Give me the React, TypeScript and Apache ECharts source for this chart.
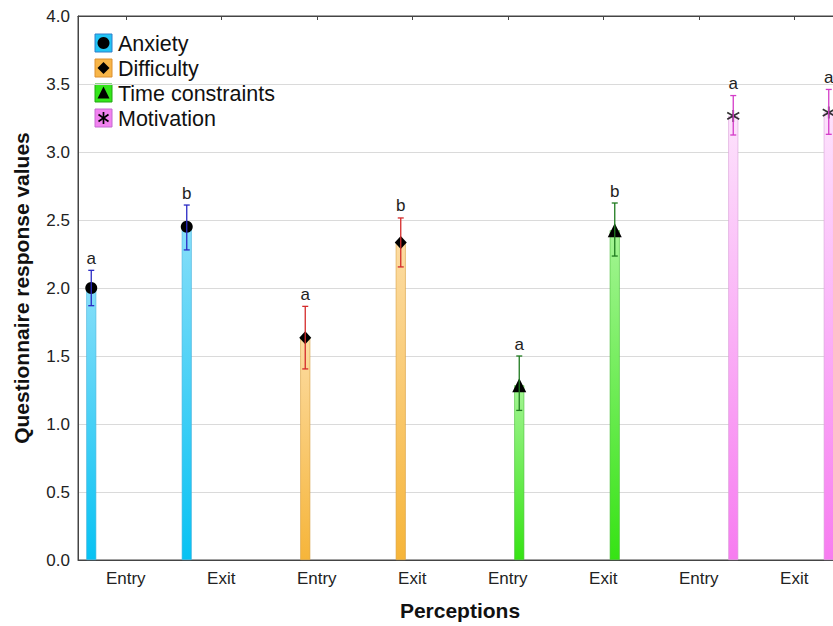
import React, { useEffect, useRef } from "react";
import * as echarts from "echarts";

const categories = ["Entry", "Exit", "Entry", "Exit", "Entry", "Exit", "Entry", "Exit"];
const groupNames = ["Anxiety", "Difficulty", "Time constraints", "Motivation"];

// [Entry, Exit] per perception
const anxietyMean = [2.0, 2.45];
const anxietyLow = [1.87, 2.28];
const anxietyHigh = [2.13, 2.61];
const anxietyLetters = ["a", "b"];

const difficultyMean = [1.635, 2.335];
const difficultyLow = [1.405, 2.155];
const difficultyHigh = [1.865, 2.515];
const difficultyLetters = ["a", "b"];

const timeMean = [1.285, 2.425];
const timeLow = [1.1, 2.235];
const timeHigh = [1.5, 2.625];
const timeLetters = ["a", "b"];

const motivationMean = [3.265, 3.29];
const motivationLow = [3.125, 3.13];
const motivationHigh = [3.415, 3.46];
const motivationLetters = ["a", "a"];

const yTicks = [0, 0.5, 1.0, 1.5, 2.0, 2.5, 3.0, 3.5, 4.0];

const FONT = "'Liberation Sans', Arial, Helvetica, sans-serif";
const BAR_W = 10;
const BAR_GAP = 13;
const CHART_W = 860;

const groups = [
  { mean: anxietyMean, low: anxietyLow, high: anxietyHigh, letters: anxietyLetters,
    top: "#86def9", bottom: "#08c2f3", border: "#4db4dc", err: "#2a2ac4", symbol: "circle", size: 12,
    swatch: "#22c4f4", swatchBorder: "#2f7fcc" },
  { mean: difficultyMean, low: difficultyLow, high: difficultyHigh, letters: difficultyLetters,
    top: "#fcdca2", bottom: "#f6b53a", border: "#d9a040", err: "#d42b2b", symbol: "diamond", size: [12, 13],
    swatch: "#f7b548", swatchBorder: "#dc9030" },
  { mean: timeMean, low: timeLow, high: timeHigh, letters: timeLetters,
    top: "#a4f594", bottom: "#36e314", border: "#4cc03a", err: "#1f7a1f", symbol: "triangle", size: 14,
    swatch: "#34e61a", swatchBorder: "#22a812" },
  { mean: motivationMean, low: motivationLow, high: motivationHigh, letters: motivationLetters,
    top: "#fde2fc", bottom: "#f77cf0", border: "#d9a0d8", err: "#d43cc8",
    symbol: "path://M6 0 L6 12 M0.8 2.6 L11.2 9.4 M0.8 9.4 L11.2 2.6", size: 12,
    swatch: "#f282f0", swatchBorder: "#c46ad0" },
];

function offsetOf(g: number) {
  const step = BAR_W + BAR_GAP;
  return (g - 1.5) * step;
}

export default function App() {
  const ref = useRef<HTMLDivElement>(null);

  useEffect(() => {
    document.body.style.margin = "0";
    document.body.style.overflow = "hidden";
    document.documentElement.style.overflow = "hidden";
    if (!ref.current) return;
    const chart = echarts.init(ref.current, null, { renderer: "svg" });

    const series: any[] = [];

    groups.forEach((g, gi) => {
      const barData = categories.map((_, ci) =>
        Math.floor(ci / 2) === gi ? g.mean[ci % 2] : "-"
      );
      series.push({
        name: groupNames[gi],
        type: "bar",
        xAxisIndex: 0,
        barWidth: BAR_W,
        barGap: (BAR_GAP / BAR_W) * 100 + "%",
        data: barData,
        z: 2,
        itemStyle: {
          color: new echarts.graphic.LinearGradient(0, 0, 0, 1, [
            { offset: 0, color: g.top },
            { offset: 1, color: g.bottom },
          ]),
          borderColor: g.border,
          borderWidth: 0.6,
        },
      });
    });

    groups.forEach((g, gi) => {
      const off = offsetOf(gi);
      series.push({
        name: groupNames[gi] + " mean",
        type: "scatter",
        xAxisIndex: 0,
        data: g.mean.map((v, k) => [gi * 2 + k, v]),
        symbol: g.symbol,
        symbolSize: g.size,
        symbolOffset: [off, 0],
        z: 4,
        itemStyle:
          gi === 3
            ? { color: "rgba(0,0,0,0)", borderColor: "#000", borderWidth: 1.7 }
            : { color: "#000", opacity: 1 },
      });
      series.push({
        name: groupNames[gi] + " error",
        type: "custom",
        xAxisIndex: 0,
        z: 5,
        data: g.mean.map((_, k) => [gi * 2 + k, g.low[k], g.high[k]]),
        renderItem: (params: any, api: any) => {
          const x = api.value(0);
          const pHi = api.coord([x, api.value(2)]);
          const pLo = api.coord([x, api.value(1)]);
          const cx = pHi[0] + off;
          const st = { stroke: g.err, lineWidth: 1.3 };
          return {
            type: "group",
            children: [
              { type: "line", shape: { x1: cx, y1: pHi[1], x2: cx, y2: pLo[1] }, style: st },
              { type: "line", shape: { x1: cx - 3, y1: pHi[1], x2: cx + 3, y2: pHi[1] }, style: st },
              { type: "line", shape: { x1: cx - 3, y1: pLo[1], x2: cx + 3, y2: pLo[1] }, style: st },
              {
                type: "text",
                style: {
                  text: g.letters[params.dataIndex],
                  x: cx,
                  y: pHi[1] - 12,
                  align: "center",
                  verticalAlign: "middle",
                  fontSize: 17,
                  fontFamily: FONT,
                  fill: "#222",
                },
              },
            ],
          };
        },
      });
    });

    const legendChildren: any[] = [
      { type: "rect", shape: { x: 84, y: 28, width: 181, height: 102 }, style: { fill: "#fff" } },
    ];
    groups.forEach((g, gi) => {
      const cy = 43 + gi * 25;
      const cx = 103.5;
      legendChildren.push({
        type: "rect",
        shape: { x: 95, y: cy - 9, width: 17, height: 18 },
        style: { fill: g.swatch, stroke: g.swatchBorder, lineWidth: 1 },
      });
      if (gi === 0) {
        legendChildren.push({ type: "circle", shape: { cx, cy, r: 6 }, style: { fill: "#000" } });
      } else if (gi === 1) {
        legendChildren.push({
          type: "polygon",
          shape: { points: [[cx, cy - 6], [cx + 6, cy], [cx, cy + 6], [cx - 6, cy]] },
          style: { fill: "#000" },
        });
      } else if (gi === 2) {
        legendChildren.push({
          type: "polygon",
          shape: { points: [[cx, cy - 6.5], [cx + 6, cy + 5.5], [cx - 6, cy + 5.5]] },
          style: { fill: "#000" },
        });
      } else {
        const s = { stroke: "#000", lineWidth: 1.7 };
        legendChildren.push(
          { type: "line", shape: { x1: cx, y1: cy - 6, x2: cx, y2: cy + 6 }, style: s },
          { type: "line", shape: { x1: cx - 5, y1: cy - 3.5, x2: cx + 5, y2: cy + 3.5 }, style: s },
          { type: "line", shape: { x1: cx - 5, y1: cy + 3.5, x2: cx + 5, y2: cy - 3.5 }, style: s }
        );
      }
      legendChildren.push({
        type: "text",
        style: {
          text: groupNames[gi],
          x: 118,
          y: cy + 0.5,
          verticalAlign: "middle",
          fontSize: 21.5,
          fontFamily: FONT,
          fill: "#111",
        },
      });
    });

    chart.setOption({
      animation: false,
      backgroundColor: "#fff",
      textStyle: { fontFamily: FONT },
      grid: {
        left: 78,
        top: 16,
        width: 764,
        height: 544,
        show: true,
        borderColor: "#444",
        borderWidth: 1,
        backgroundColor: "transparent",
      },
      xAxis: [
        {
          type: "category",
          data: categories,
          position: "bottom",
          axisTick: { show: false },
          axisLine: { show: true, lineStyle: { color: "#444", width: 1 } },
          axisLabel: { fontSize: 17, color: "#222", margin: 10, fontFamily: FONT },
          name: "Perceptions",
          nameLocation: "middle",
          nameGap: 40,
          nameTextStyle: { fontSize: 21, fontWeight: "bold", color: "#111", fontFamily: FONT },
        },
        {
          type: "category",
          data: categories,
          position: "top",
          axisTick: { show: true, inside: true, length: 4, alignWithLabel: true, lineStyle: { color: "#444" } },
          axisLine: { show: true, lineStyle: { color: "#444", width: 1 } },
          axisLabel: { show: false },
        },
      ],
      yAxis: {
        type: "value",
        min: yTicks[0],
        max: yTicks[yTicks.length - 1],
        interval: yTicks[1] - yTicks[0],
        axisLine: { show: true, lineStyle: { color: "#444", width: 1 } },
        axisTick: { show: false },
        axisLabel: {
          fontSize: 17,
          color: "#222",
          margin: 8,
          fontFamily: FONT,
          formatter: (v: number) => v.toFixed(1),
        },
        splitLine: { lineStyle: { color: "#dadada", width: 1 } },
        name: "Questionnaire response values",
        nameLocation: "middle",
        nameGap: 46,
        nameTextStyle: { fontSize: 21, fontWeight: "bold", color: "#111", fontFamily: FONT },
      },
      graphic: legendChildren,
      series,
    });

    return () => chart.dispose();
  }, []);

  return <div ref={ref} style={{ width: CHART_W, height: 626 }} />;
}
